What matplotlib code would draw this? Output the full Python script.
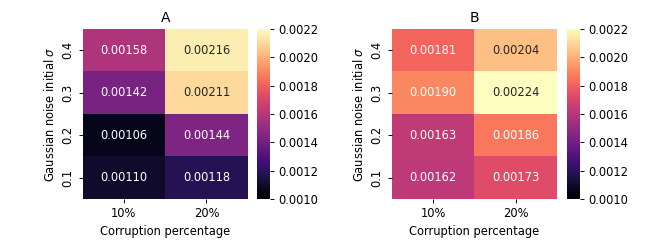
import numpy as np
import pandas as pd
import matplotlib
matplotlib.use('Agg')
import matplotlib.pyplot as plt
import seaborn as sns

sigmas = ['0.4', '0.3', '0.2', '0.1']
corruption = ['10%', '20%']

# rows = sigma (top to bottom), cols = corruption
err_A = [[0.00158, 0.00216],
         [0.00142, 0.00211],
         [0.00106, 0.00144],
         [0.00110, 0.00118]]
err_B = [[0.00181, 0.00204],
         [0.00190, 0.00224],
         [0.00163, 0.00186],
         [0.00162, 0.00173]]

cbar_ticks = [0.0010, 0.0012, 0.0014, 0.0016, 0.0018, 0.0020, 0.0022]

fig = plt.figure(figsize=(8, 3), dpi=83)

boxes = [
    ('A', err_A, [0.1245, 0.2008, 0.2485, 0.683], [0.3870, 0.2008, 0.0196, 0.683]),
    ('B', err_B, [0.5900, 0.2008, 0.2485, 0.683], [0.8544, 0.2008, 0.0196, 0.683]),
]

for title, vals, hm_box, cb_box in boxes:
    ax = fig.add_axes(hm_box)
    cax = fig.add_axes(cb_box)
    df = pd.DataFrame(vals, index=sigmas, columns=corruption)
    sns.heatmap(df, ax=ax, cbar_ax=cax, cmap='magma', vmin=0.001, vmax=0.0022,
                annot=True, fmt='.5f')
    ax.set_title(title)
    ax.set_xlabel('Corruption percentage')
    ax.set_ylabel(r'Gaussian noise initial $\sigma$')
    cax.set_yticks(cbar_ticks)
    cax.set_yticklabels(['%.4f' % t for t in cbar_ticks])

plt.savefig('out.png', dpi=83)
